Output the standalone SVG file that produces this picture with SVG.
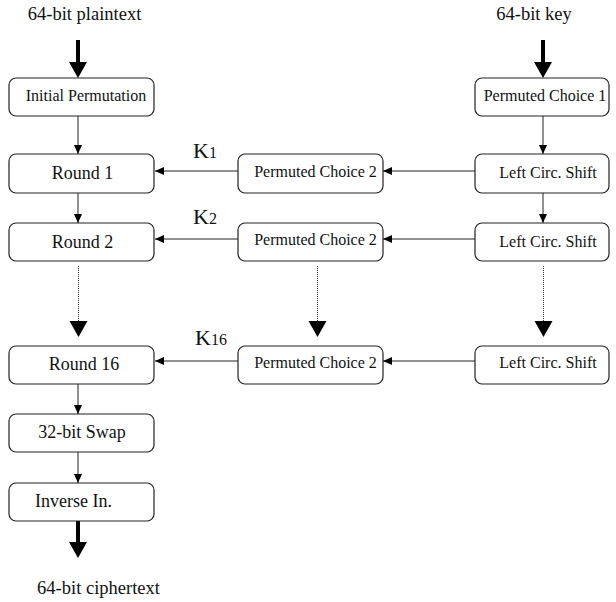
<svg xmlns="http://www.w3.org/2000/svg" width="616" height="602" viewBox="0 0 616 602">
<defs>
<style>
.box{fill:#fff;stroke:#222;stroke-width:1.2}
.t{font-family:"Liberation Serif","Times New Roman",serif;fill:#111;text-anchor:middle}
.lbl{font-size:18.5px}
.big{font-size:18px}
.sm{font-size:16px}
.k{font-family:"Liberation Serif","Times New Roman",serif;fill:#111;font-size:22px}
.ks{font-size:16px}
.ln{stroke:#222;stroke-width:1;fill:none}
.thick{stroke:#000;stroke-width:4;fill:none}
.dot{stroke:#333;stroke-width:1;stroke-dasharray:1 1;fill:none}
</style>
<marker id="ah" markerUnits="userSpaceOnUse" markerWidth="10" markerHeight="9" refX="9" refY="4" orient="auto">
<path d="M0,0 L9,4 L0,8 z" fill="#000"/>
</marker>
<marker id="big" markerUnits="userSpaceOnUse" markerWidth="18" markerHeight="19" refX="0" refY="9" orient="auto">
<path d="M0,0 L16,9 L0,18 z" fill="#000"/>
</marker>
</defs>
<rect width="616" height="602" fill="#fff"/>
<text class="t lbl" x="84.5" y="20">64-bit plaintext</text>
<text class="t lbl" x="534" y="20">64-bit key</text>
<text class="t lbl" x="98.5" y="594">64-bit ciphertext</text>
<g id="connectors">
<line class="thick" x1="78" y1="40" x2="78" y2="62" marker-end="url(#big)"/>
<line class="thick" x1="543" y1="40" x2="543" y2="62" marker-end="url(#big)"/>
<line class="thick" x1="78" y1="521" x2="78" y2="542" marker-end="url(#big)"/>
<line class="ln" x1="78" y1="116" x2="78" y2="154" marker-end="url(#ah)"/>
<line class="ln" x1="78" y1="193" x2="78" y2="223" marker-end="url(#ah)"/>
<line class="ln" x1="78" y1="384" x2="78" y2="414" marker-end="url(#ah)"/>
<line class="ln" x1="78" y1="452" x2="78" y2="483" marker-end="url(#ah)"/>
<line class="ln" x1="543" y1="116" x2="543" y2="154" marker-end="url(#ah)"/>
<line class="ln" x1="543" y1="193" x2="543" y2="223" marker-end="url(#ah)"/>
<line class="ln" x1="475" y1="171" x2="383" y2="171" marker-end="url(#ah)"/>
<line class="ln" x1="238" y1="171" x2="155" y2="171" marker-end="url(#ah)"/>
<line class="ln" x1="475" y1="239" x2="383" y2="239" marker-end="url(#ah)"/>
<line class="ln" x1="238" y1="239" x2="155" y2="239" marker-end="url(#ah)"/>
<line class="ln" x1="475" y1="361" x2="383" y2="361" marker-end="url(#ah)"/>
<line class="ln" x1="238" y1="361" x2="155" y2="361" marker-end="url(#ah)"/>
<line class="dot" x1="78.5" y1="266" x2="78.5" y2="321" marker-end="url(#big)"/>
<line class="dot" x1="317.5" y1="266" x2="317.5" y2="321" marker-end="url(#big)"/>
<line class="dot" x1="543.5" y1="266" x2="543.5" y2="321" marker-end="url(#big)"/>
</g>
<g id="ip"><rect class="box" x="9" y="78" width="145" height="38" rx="7"/><text class="t sm" x="86" y="101">Initial Permutation</text></g>
<g id="pc1"><rect class="box" x="475" y="78" width="134" height="38" rx="7"/><text class="t sm" x="545" y="101">Permuted Choice 1</text></g>
<g id="round1"><rect class="box" x="9" y="154" width="145" height="39" rx="7"/><text class="t big" x="82.5" y="179">Round 1</text></g>
<g id="pc2a"><rect class="box" x="238" y="154" width="145" height="39" rx="7"/><text class="t sm" x="315.5" y="177">Permuted Choice 2</text></g>
<g id="lcs1"><rect class="box" x="475" y="154" width="134" height="39" rx="7"/><text class="t sm" x="548" y="178">Left Circ. Shift</text></g>
<g id="k1"><text class="k" x="193" y="158">K<tspan class="ks">1</tspan></text></g>
<g id="round2"><rect class="box" x="9" y="223" width="145" height="38" rx="7"/><text class="t big" x="82.5" y="248">Round 2</text></g>
<g id="pc2b"><rect class="box" x="238" y="223" width="145" height="38" rx="7"/><text class="t sm" x="315.5" y="245">Permuted Choice 2</text></g>
<g id="lcs2"><rect class="box" x="475" y="223" width="134" height="38" rx="7"/><text class="t sm" x="548" y="247">Left Circ. Shift</text></g>
<g id="k2"><text class="k" x="193" y="224">K<tspan class="ks">2</tspan></text></g>
<g id="round16"><rect class="box" x="9" y="346" width="145" height="38" rx="7"/><text class="t big" x="84" y="370">Round 16</text></g>
<g id="pc2c"><rect class="box" x="238" y="346" width="145" height="38" rx="7"/><text class="t sm" x="315.5" y="368">Permuted Choice 2</text></g>
<g id="lcs16"><rect class="box" x="475" y="346" width="134" height="38" rx="7"/><text class="t sm" x="548" y="368">Left Circ. Shift</text></g>
<g id="k16"><text class="k" x="195" y="345">K<tspan class="ks">16</tspan></text></g>
<g id="swap"><rect class="box" x="9" y="414" width="145" height="38" rx="7"/><text class="t big" x="82" y="438">32-bit Swap</text></g>
<g id="inv"><rect class="box" x="9" y="483" width="145" height="38" rx="7"/><text class="t big" x="73.5" y="507">Inverse In.</text></g>
</svg>
